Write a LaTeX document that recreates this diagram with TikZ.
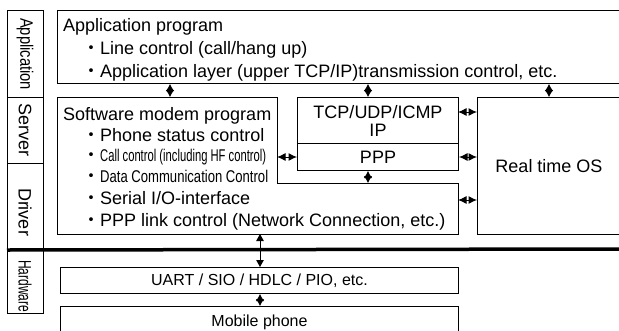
\documentclass[tikz,border=0pt]{standalone}
\usepackage{fontspec}
\usepackage{graphicx}
\setmainfont{Liberation Sans}
\newfontfamily\cjk{Noto Sans CJK JP}
\usetikzlibrary{arrows.meta}
\tikzset{
  box/.style={draw, line width=1pt, inner sep=0pt, anchor=north west},
  txt/.style={anchor=base west, inner sep=0pt, font=\fontsize{18}{20}\selectfont},
  label/.style={rotate=-90, inner sep=0pt, font=\fontsize{18}{20}\selectfont},
  link/.style={line width=1pt, {Latex[length=7pt,width=8.5pt]}-{Latex[length=7pt,width=8.5pt]}},
  hlink/.style={line width=1pt, {Latex[length=8.5pt,width=8pt]}-{Latex[length=8.5pt,width=8pt]}},
  hwlink/.style={line width=1pt, {Triangle[length=7pt,width=7.5pt]}-{Triangle[length=7pt,width=7.5pt]}},
}
\newcommand\bul{\makebox[18pt][c]{\cjk ・}}
\newcommand\narrowline[2]{\resizebox{#1}{\height}{\fontsize{17}{16}\selectfont #2}}
\begin{document}
\begin{tikzpicture}[x=1pt,y=-1pt]
\useasboundingbox (0,0) rectangle (619,330);
\fill[white] (0,0) rectangle (619,330);

% layer column on the left
\node[box, minimum width=36pt, minimum height=87pt] (cellApp) at (7,10) {};
\node[box, minimum width=36pt, minimum height=66pt] (cellSrv) at (7,97) {};
\node[box, minimum width=36pt, minimum height=86pt] (cellDrv) at (7,163) {};
\node[box, minimum width=36pt, minimum height=64pt] (cellHw) at (7,249) {};
\node[label] (labApp) at (25,54) {\resizebox{72pt}{\height}{Application}};
\node[label] (labSrv) at (25,130) {Server};
\node[label] (labDrv) at (25,212) {Driver};
\node[label] (labHw) at (25,286) {\resizebox{52pt}{\height}{Hardware}};

% software / hardware boundary
\draw[line width=3.5pt] (cellDrv.south west) -- (619,249);

% application program
\node[box, minimum width=568pt, minimum height=73pt] (app) at (57,10) {};
\node[txt] (appT1) at (63,31) {Application program};
\node[txt] (appT2) at (82,54) {\bul Line control (call/hang up)};
\node[txt] (appT3) at (82,77) {\bul Application layer (upper TCP/IP)transmission control, etc.};

% software modem program (stepped outline)
\draw[line width=1pt] (57,97) -- (277,97) -- (277,183) -- (458,183) -- (458,234) -- (57,234) -- cycle;
\coordinate (modemN) at (170,97);
\coordinate (modemE) at (277,157);
\coordinate (modemStep) at (368,183);
\coordinate (modemE2) at (458,200);
\coordinate (modemS) at (260,234);
\node[txt] (mdT1) at (63,120) {Software modem program};
\node[txt] (mdT2) at (82,141) {\bul Phone status control};
\node[txt] (mdT3) at (82,161.5) {\bul\narrowline{166pt}{Call control (including HF control)}};
\node[txt] (mdT4) at (82,182.5) {\bul\narrowline{168pt}{Data Communication Control}};
\node[txt] (mdT5) at (82,204) {\bul Serial I/O-interface};
\node[txt] (mdT6) at (82,226) {\bul PPP link control (Network Connection, etc.)};

% protocol stack
\node[box, minimum width=161pt, minimum height=46pt, align=center,
      font=\fontsize{18}{18}\selectfont] (tcp) at (297,97) {TCP/UDP/ICMP\\IP};
\node[box, minimum width=161pt, minimum height=27pt,
      font=\fontsize{18}{20}\selectfont] (ppp) at (297,143) {PPP};
\coordinate (tcpN) at (368,97);
\coordinate (tcpE) at (458,112);

% real time OS
\node[box, minimum width=148pt, minimum height=137pt] (rtos) at (477,97) {};
\coordinate (rtosN) at (549,97);
\node[font=\fontsize{18}{20}\selectfont, inner sep=0pt] (rtosT) at (549,166) {Real time OS};

% hardware
\node[box, minimum width=398pt, minimum height=26pt,
      font=\fontsize{16}{18}\selectfont] (uart) at (60,267) {UART / SIO / HDLC / PIO, etc.};
\node[box, minimum width=398pt, minimum height=32pt,
      font=\fontsize{16}{18}\selectfont] (mobile) at (60,306) {Mobile phone};

% connectors
\draw[link] (app.south -| modemN) -- (modemN);
\draw[link] (app.south -| tcpN) -- (tcpN);
\draw[link] (app.south -| rtosN) -- (rtosN);
\draw[hlink] (modemE) -- (ppp.west);
\draw[hlink] (tcpE) -- (rtos.west |- tcpE);
\draw[hlink] (ppp.east) -- (rtos.west |- ppp.east);
\draw[link] (ppp.south -| tcpN) -- (modemStep);
\draw[hlink] (modemE2) -- (rtos.west |- modemE2);
\draw[hwlink] (modemS) -- (uart.north -| modemS);
\draw[link] (uart.south -| modemS) -- (mobile.north -| modemS);
\end{tikzpicture}
\end{document}
